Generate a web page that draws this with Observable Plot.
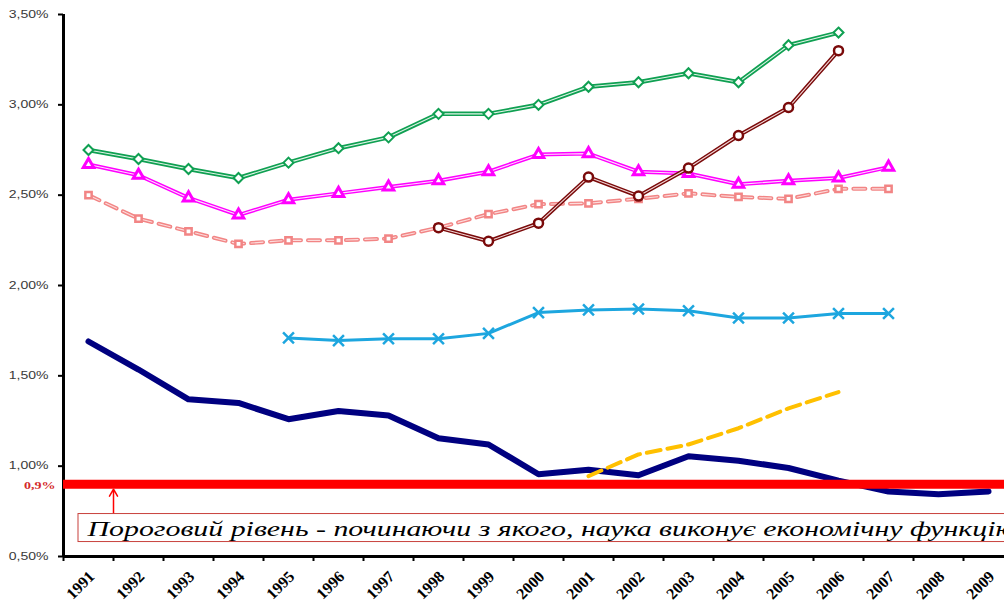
<!DOCTYPE html>
<html><head><meta charset="utf-8">
<script src="https://cdn.jsdelivr.net/npm/d3@7"></script>
<script src="https://cdn.jsdelivr.net/npm/@observablehq/plot@0.6"></script>
<style>html,body{margin:0;padding:0;background:#fff;overflow:hidden}</style>
</head><body><div id="chart"></div>
<script>
// ---- data ----
const years = [1991,1992,1993,1994,1995,1996,1997,1998,1999,2000,2001,2002,2003,2004,2005,2006,2007,2008,2009];
const yTicks = [0.5, 1.0, 1.5, 2.0, 2.5, 3.0, 3.5];
// navy thick line 1991-2009
const navyValues = [1.69,1.535,1.37,1.35,1.26,1.305,1.28,1.155,1.12,0.955,0.98,0.95,1.055,1.03,0.99,0.92,0.86,0.845,0.86];
// green diamonds 1991-2006
const greenValues = [2.75,2.70,2.645,2.595,2.68,2.76,2.82,2.95,2.95,3.00,3.10,3.125,3.175,3.125,3.33,3.40];
// magenta triangles 1991-2007
const magentaValues = [2.67,2.61,2.485,2.39,2.475,2.51,2.545,2.58,2.63,2.725,2.73,2.63,2.62,2.56,2.58,2.595,2.655];
// salmon dashed squares 1991-2007
const salmonValues = [2.50,2.37,2.30,2.23,2.25,2.25,2.26,2.32,2.395,2.45,2.455,2.48,2.51,2.49,2.48,2.535,2.535];
// maroon circles 1998-2006
const maroonValues = [2.32,2.245,2.345,2.60,2.495,2.65,2.83,2.985,3.30];
// light blue crosses 1995-2007
const blueValues = [1.71,1.695,1.705,1.705,1.735,1.85,1.865,1.87,1.86,1.82,1.82,1.845,1.845];
// yellow dashed 2001-2006
const yellowValues = [0.945,1.065,1.12,1.21,1.32,1.41];
const threshold = [0.9];
const thresholdLabel = "0,9%";
const noteText = "Пороговий рівень - починаючи з якого, наука виконує економічну функцію";

const rows = (start, values) => values.map((value, i) => ({year: start + i, value}));
const fmtPct = v => v.toFixed(2).replace(".", ",") + "%";
const halfYears = years.map(y => y - 0.5);

const col = {
  navy: "#000080", green: "#0FA052", magenta: "#FF00FF", salmon: "#F28585",
  maroon: "#7A0A0A", blue: "#1DA6DF", yellow: "#FFC000", red: "#FF0000"
};

const doubleLine = (data, color, w, inner, extra = {}) => [
  Plot.line(data, {x: "year", y: "value", stroke: color, strokeWidth: w, strokeLinejoin: "round", ...extra}),
  Plot.line(data, {x: "year", y: "value", stroke: inner, strokeWidth: 1.1, strokeLinejoin: "round", ...extra})
];

const green = rows(1991, greenValues);
const magenta = rows(1991, magentaValues);
const salmon = rows(1991, salmonValues);
const maroon = rows(1998, maroonValues);
const blue = rows(1995, blueValues);
const navy = rows(1991, navyValues);
const yellow = rows(2001, yellowValues);

const plot = Plot.plot({
  width: 1004, height: 602,
  marginLeft: 63, marginRight: 0, marginTop: 14, marginBottom: 46,
  x: {domain: [1990.5, 2009.5], range: [63, 1013], axis: null, label: null},
  y: {domain: [0.5, 3.5], axis: null, label: null},
  style: {background: "white", overflow: "hidden"},
  marks: [
    // axes
    Plot.axisY(yTicks, {tickSize: 5, tickFormat: () => "", label: null, stroke: "black", strokeWidth: 2}),
    Plot.text(yTicks, {y: d => d, frameAnchor: "left", dx: -15, textAnchor: "end", text: fmtPct,
      fontSize: 10, fill: "#3a3a3a", fontFamily: "Liberation Sans, Arial, sans-serif"}),
    Plot.axisX(halfYears, {tickSize: 5, tickFormat: () => "", label: null, stroke: "black", strokeWidth: 2}),
    Plot.text(years, {x: d => d, frameAnchor: "bottom", dx: 7, dy: 21, rotate: -45, textAnchor: "end",
      lineAnchor: "bottom", text: d => String(d), fontSize: 16, fontWeight: "bold",
      fontFamily: "Liberation Serif, Times New Roman, serif", fill: "black"}),
    Plot.ruleX([1990.5], {stroke: "black", strokeWidth: 3}),
    Plot.ruleY([0.5], {stroke: "black", strokeWidth: 3}),

    // series
    ...doubleLine(green, col.green, 4.5, "#dff3e6"),
    Plot.dot(green, {x: "year", y: "value", symbol: "diamond2", r: 4.5, stroke: col.green, fill: "white", strokeWidth: 2}),
    ...doubleLine(magenta, col.magenta, 4, "#ffe0ff"),
    Plot.dot(magenta, {x: "year", y: "value", symbol: "triangle2", r: 5, stroke: col.magenta, fill: "white", strokeWidth: 3}),
    ...doubleLine(salmon, col.salmon, 4, "#fcdcdc", {strokeDasharray: "12,7"}),
    Plot.dot(salmon, {x: "year", y: "value", symbol: "square2", r: 4, stroke: col.salmon, fill: "white", strokeWidth: 2.5}),
    ...doubleLine(maroon, col.maroon, 4, "#f2d6d6"),
    Plot.dot(maroon, {x: "year", y: "value", symbol: "circle", r: 4.5, stroke: col.maroon, fill: "white", strokeWidth: 2.5}),
    Plot.line(blue, {x: "year", y: "value", stroke: col.blue, strokeWidth: 3, strokeLinejoin: "round"}),
    Plot.dot(blue, {x: "year", y: "value", symbol: "times", r: 5, stroke: col.blue, strokeWidth: 2.5}),
    Plot.line(navy, {x: "year", y: "value", stroke: col.navy, strokeWidth: 6, strokeLinejoin: "round", strokeLinecap: "round"}),
    Plot.line(yellow, {x: "year", y: "value", stroke: col.yellow, strokeWidth: 4, strokeDasharray: "14,7", strokeLinecap: "round"}),

    // threshold
    Plot.ruleY(threshold, {stroke: col.red, strokeWidth: 9}),
    Plot.text(threshold, {y: d => d, frameAnchor: "left", dx: -8, dy: 2, textAnchor: "end", text: () => thresholdLabel,
      fontSize: 10, fontWeight: "bold", fill: "#D42A2A", fontFamily: "Liberation Serif, serif"}),
    Plot.arrow(threshold, {x1: 1991.5, x2: 1991.5, y1: 0.735, y2: d => d, insetEnd: 5,
      stroke: col.red, strokeWidth: 1.5, headLength: 8}),
    Plot.rect([noteText], {x1: 1990.8, x2: 2010.5, y1: 0.58, y2: 0.735, fill: "white", stroke: "#C8413C", strokeWidth: 1}),
    Plot.text([noteText], {x: 1990.98, y: 0.612, text: d => d, textAnchor: "start", lineAnchor: "bottom",
      fontSize: 22, fontStyle: "italic", fontFamily: "Liberation Serif, Times New Roman, serif", fill: "black"})
  ]
});

document.getElementById("chart").append(plot);

// horizontal stretch of the reference text (the original picture is widened)
const xs = plot.scale("x");
d3.select(plot).selectAll("text").each(function() {
  const t = this.textContent;
  if (t === noteText) {
    this.setAttribute("textLength", xs.apply(2009.56) - xs.apply(1990.98));
    this.setAttribute("lengthAdjust", "spacingAndGlyphs");
  } else if (/%$/.test(t)) {
    this.setAttribute("textLength", this.getComputedTextLength() * 1.4);
    this.setAttribute("lengthAdjust", "spacingAndGlyphs");
  }
});
</script>
</body></html>
